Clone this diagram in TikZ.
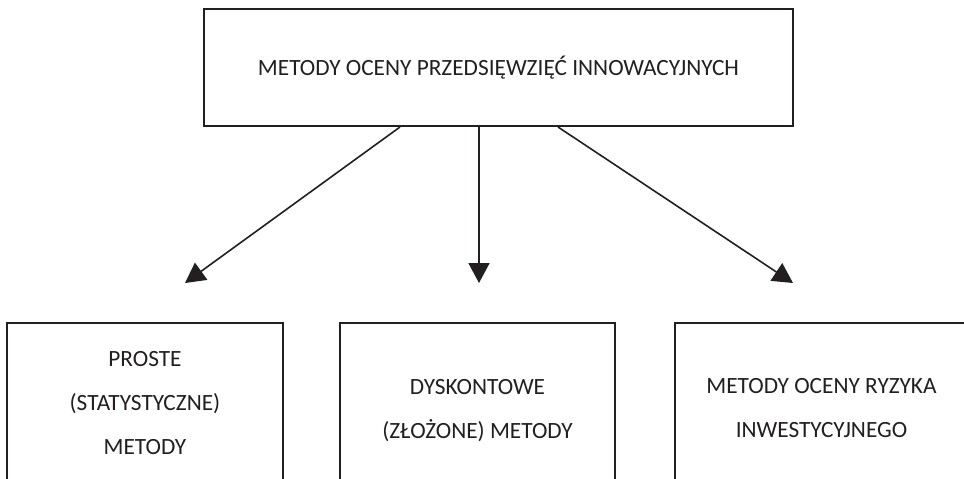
\documentclass[tikz,border=0pt]{standalone}
\usepackage{fontspec}
\setmainfont{Carlito}
\usetikzlibrary{arrows.meta}
\definecolor{ink}{HTML}{231F20}
\begin{document}
\begin{tikzpicture}[x=1pt,y=-1pt,
  box/.style={draw=ink,line width=2pt,align=center,inner sep=0pt,text=ink,
    font={\fontsize{23.3}{44}\selectfont}},
  conn/.style={draw=ink,line width=1.6pt,-{Triangle[length=20pt,width=21pt]}}]
\clip (0,0) rectangle (964,479);
\fill[white] (0,0) rectangle (964,479);
\node[box,minimum width=589pt,minimum height=117pt] (top) at (498.5,67.5)
  {METODY OCENY PRZEDSIĘWZIĘĆ INNOWACYJNYCH};
\node[box,minimum width=276pt,minimum height=160pt] (left) at (145,403)
  {PROSTE\\(STATYSTYCZNE)\\METODY};
\node[box,minimum width=275pt,minimum height=175pt] (mid) at (477.5,410.5)
  {DYSKONTOWE\\(ZŁOŻONE) METODY};
\node[box,minimum width=293pt,minimum height=171pt] (right) at (821.5,408.5)
  {METODY OCENY RYZYKA\\INWESTYCYJNEGO};
\coordinate (s1) at (top.south -| 400,0);
\coordinate (s2) at (top.south -| 479,0);
\coordinate (s3) at (top.south -| 558,0);
\coordinate (e1) at (185,283);
\coordinate (e2) at (479,283);
\coordinate (e3) at (793,283);
\draw[conn] (s1) -- (e1);
\draw[conn] (s2) -- (e2);
\draw[conn] (s3) -- (e3);
\end{tikzpicture}
\end{document}
